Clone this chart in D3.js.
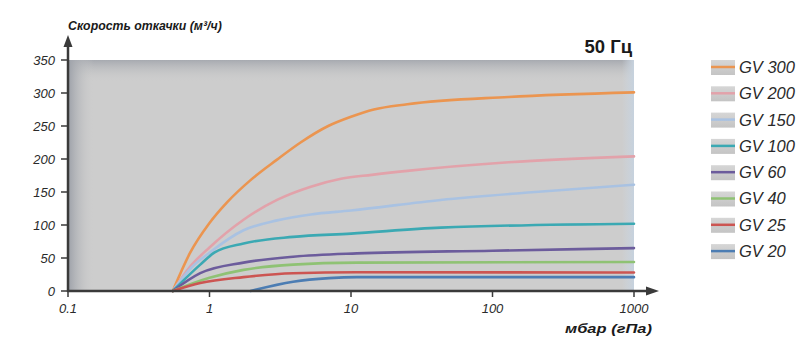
<!DOCTYPE html>
<html>
<head>
<meta charset="utf-8">
<script src="https://cdn.jsdelivr.net/npm/d3@7"></script>
<style>
	body { margin: 0; background: #fff; }
	svg { display: block; font-family: "Liberation Sans", Arial, sans-serif; }
</style>
</head>
<body>
<div id="chart"></div>
<script>
// pressure (mbar) vs pumping speed (m3/h)
const seriesNames = ["GV 300", "GV 200", "GV 150", "GV 100", "GV 60", "GV 40", "GV 25", "GV 20"];
const seriesColors = ["#eb9550", "#e2a2aa", "#a9c2e2", "#3ba9b3", "#6c5c9c", "#8fc274", "#cc5552", "#4c7db3"];

const gv300 = [[0.55, 0], [0.73, 58], [1, 103], [1.34, 135], [1.95, 168], [3, 199], [4.4, 225], [6.9, 250], [10, 264], [14.5, 275], [25, 283], [130, 294], [1000, 301]];
const gv200 = [[0.55, 0], [0.73, 37], [1, 66], [1.74, 108], [3, 138], [5.2, 158], [8.5, 170], [14, 176], [25, 182], [130, 195], [1000, 204]];
const gv150 = [[0.55, 0], [0.75, 36], [1, 58], [1.74, 92], [3, 107], [5.2, 116], [10, 122], [43, 138], [200, 150], [1000, 161]];
const gv100 = [[0.55, 0], [0.86, 40], [1.08, 58], [1.74, 72], [3.9, 82], [10, 87], [43, 96], [1000, 102]];
const gv60 = [[0.55, 0], [0.86, 27], [1.74, 43], [3.9, 52], [11, 57], [100, 61], [1000, 65]];
const gv40 = [[0.55, 0], [1, 20], [1.74, 32], [3.9, 40], [11, 43], [1000, 44]];
const gv25 = [[0.55, 0], [0.86, 12], [1.74, 21], [3.9, 27], [11, 28.5], [1000, 28]];
const gv20 = [[1.95, 0], [3.9, 14], [7, 19.5], [11, 21], [1000, 21]];
const seriesData = [gv300, gv200, gv150, gv100, gv60, gv40, gv25, gv20];

const xTicks = [0.1, 1, 10, 100, 1000];
const xTickLabels = ["0.1", "1", "10", "100", "1000"];
const yTicks = [0, 50, 100, 150, 200, 250, 300, 350];

const width = 798, height = 338;
const margin = { left: 68, right: 164, top: 60, bottom: 47 };

const svg = d3.select("#chart")
	.append("svg")
	.attr("width", width)
	.attr("height", height);

const x = d3.scaleLog().domain([0.1, 1000]).range([margin.left, width - margin.right]);
const y = d3.scaleLinear().domain([0, 350]).range([height - margin.bottom, margin.top]);

const defs = svg.append("defs");
const gTop = defs.append("linearGradient").attr("id", "gTop").attr("x1", 0).attr("y1", 0).attr("x2", 0).attr("y2", 1);
gTop.append("stop").attr("offset", "0%").attr("stop-color", "#a7aab0");
gTop.append("stop").attr("offset", "100%").attr("stop-color", "#cdcdcd").attr("stop-opacity", 0);
const gLeft = defs.append("linearGradient").attr("id", "gLeft").attr("x1", 0).attr("y1", 0).attr("x2", 1).attr("y2", 0);
gLeft.append("stop").attr("offset", "0%").attr("stop-color", "#9ca0a8");
gLeft.append("stop").attr("offset", "100%").attr("stop-color", "#cdcdcd").attr("stop-opacity", 0);
const gRight = defs.append("linearGradient").attr("id", "gRight").attr("x1", 0).attr("y1", 0).attr("x2", 1).attr("y2", 0);
gRight.append("stop").attr("offset", "0%").attr("stop-color", "#cdd6e0").attr("stop-opacity", 0);
gRight.append("stop").attr("offset", "100%").attr("stop-color", "#c6d2de");
const gSwatch = defs.append("linearGradient").attr("id", "gSwatch").attr("x1", 0).attr("y1", 0).attr("x2", 0).attr("y2", 1);
gSwatch.append("stop").attr("offset", "0%").attr("stop-color", "#d6d6d6");
gSwatch.append("stop").attr("offset", "100%").attr("stop-color", "#c4c4c4");

// plot background
const x0 = x(0.1), x1 = x(1000), y0 = y(0), y1 = y(350);
svg.append("rect").attr("x", x0).attr("y", y1).attr("width", x1 - x0).attr("height", y0 - y1).attr("fill", "#cdcdcd");
svg.append("rect").attr("x", x0).attr("y", y1).attr("width", x1 - x0).attr("height", 22).attr("fill", "url(#gTop)");
svg.append("rect").attr("x", x0).attr("y", y1).attr("width", 26).attr("height", y0 - y1).attr("fill", "url(#gLeft)");
svg.append("rect").attr("x", x1 - 12).attr("y", y1).attr("width", 12).attr("height", y0 - y1).attr("fill", "url(#gRight)");

// curves
const line = d3.line()
	.x((d) => x(d[0]))
	.y((d) => y(d[1]))
	.curve(d3.curveMonotoneX);

svg.append("g")
	.selectAll()
	.data(seriesData)
	.join("path")
	.attr("d", line)
	.attr("fill", "none")
	.attr("stroke", (d, i) => seriesColors[i])
	.attr("stroke-width", 2.6)
	.attr("stroke-linecap", "round");

// axes
const axisColor = "#3a3a3a";
svg.append("line").attr("x1", x0).attr("x2", x0).attr("y1", y0 + 1).attr("y2", 44)
	.attr("stroke", axisColor).attr("stroke-width", 2.5);
svg.append("path").attr("d", `M${x0},35 L${x0 - 4.5},47 L${x0 + 4.5},47 Z`).attr("fill", axisColor);
svg.append("line").attr("x1", x0 - 1).attr("x2", 648).attr("y1", y0).attr("y2", y0)
	.attr("stroke", axisColor).attr("stroke-width", 2.5);
svg.append("path").attr("d", `M659,${y0} L646,${y0 - 4.5} L646,${y0 + 4.5} Z`).attr("fill", axisColor);

const yAxis = svg.append("g")
	.selectAll()
	.data(yTicks)
	.join("g")
	.attr("transform", (d) => `translate(0,${y(d)})`);
yAxis.append("line").attr("x1", x0 - 7).attr("x2", x0).attr("stroke", axisColor).attr("stroke-width", 1.5);
yAxis.append("text")
	.attr("x", 55)
	.attr("dy", "0.36em")
	.attr("text-anchor", "end")
	.attr("font-size", 13)
	.attr("font-style", "italic")
	.attr("fill", "#2a2a2a")
	.text((d) => d);

const xAxis = svg.append("g")
	.selectAll()
	.data(xTicks)
	.join("g")
	.attr("transform", (d) => `translate(${x(d)},${y0})`);
xAxis.append("line").attr("y1", 0).attr("y2", 6).attr("stroke", axisColor).attr("stroke-width", 1.5);
xAxis.append("text")
	.attr("y", 22)
	.attr("text-anchor", "middle")
	.attr("font-size", 13)
	.attr("font-style", "italic")
	.attr("fill", "#2a2a2a")
	.text((d, i) => xTickLabels[i]);

// titles (condensed look: squeeze horizontally to the reference width)
function condensed(tx, ty, str, size, targetWidth) {
	const g = svg.append("g");
	const t = g.append("text")
		.attr("font-size", size).attr("font-weight", "bold").attr("font-style", "italic")
		.attr("fill", "#1a1a1a")
		.text(str);
	const w = t.node().getComputedTextLength();
	g.attr("transform", `translate(${tx},${ty}) scale(${targetWidth / w},1)`);
}
condensed(68, 30, "Скорость откачки (м³/ч)", 13.5, 154);
condensed(565, 333, "мбар (гПа)", 13.5, 87);

svg.append("text")
	.attr("x", 632).attr("y", 53)
	.attr("text-anchor", "end")
	.attr("font-size", 18.5).attr("font-weight", "bold")
	.attr("fill", "#1a1a1a")
	.text("50 Гц");

// legend
const legend = svg.append("g")
	.selectAll()
	.data(seriesNames)
	.join("g")
	.attr("transform", (d, i) => `translate(711,${67 + i * 26.3})`);
legend.append("rect").attr("x", 0).attr("y", -7).attr("width", 24).attr("height", 15).attr("fill", "url(#gSwatch)");
legend.append("line").attr("x1", 0).attr("x2", 24).attr("y1", 0).attr("y2", 0)
	.attr("stroke", (d, i) => seriesColors[i]).attr("stroke-width", 2.5);
legend.append("text")
	.attr("x", 28).attr("dy", "0.36em")
	.attr("font-size", 16.5).attr("font-style", "italic")
	.attr("fill", "#2a2a2a")
	.text((d) => d);
</script>
</body>
</html>
